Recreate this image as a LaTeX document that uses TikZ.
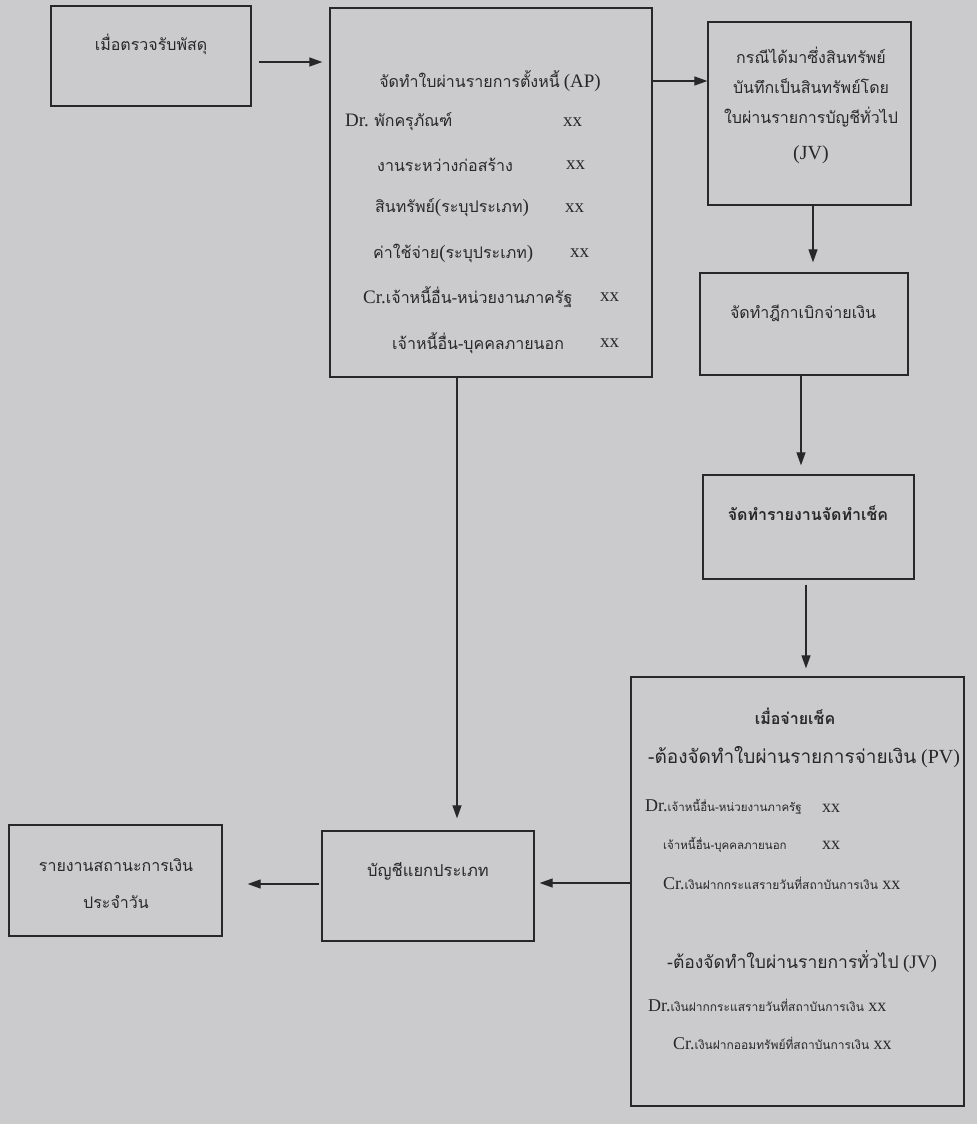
\documentclass[tikz,border=0pt]{standalone}
\usepackage{fontspec}
\setmainfont{Liberation Serif}
\newfontfamily\thai[Script=Thai]{Loma}
\usetikzlibrary{arrows.meta}
\definecolor{paper}{RGB}{203,203,205}
\definecolor{ink}{RGB}{40,40,42}
\newcommand\T[1]{{\thai #1}}
\newcommand\fs[1]{\fontsize{#1}{#1}\selectfont}
\newcommand\LL[1]{{\fs{19}#1}}
\tikzset{
  box/.style={draw=ink, line width=1.3pt, rectangle, inner sep=0pt},
  arr/.style={draw=ink, line width=1.2pt, -{Triangle[length=13pt,width=9pt]}},
  txt/.style={text=ink, inner sep=0pt, font=\fs{16}},
  lt/.style={txt, anchor=west},
}
\begin{document}
\begin{tikzpicture}[x=1pt,y=-1pt]
\fill[paper] (0,0) rectangle (977,1124);
\useasboundingbox (0,0) rectangle (977,1124);
% boxes
\node[box, minimum width=200pt, minimum height=100pt] (recv) at (151,56) {};
\node[box, minimum width=322pt, minimum height=369pt] (ap) at (491,192.5) {};
\node[box, minimum width=203pt, minimum height=183pt] (jv) at (809.5,113.5) {};
\node[box, minimum width=208pt, minimum height=102pt] (dika) at (804,324) {};
\node[box, minimum width=211pt, minimum height=104pt] (chq) at (808.5,527) {};
\node[box, minimum width=333pt, minimum height=429pt] (pv) at (797.5,891.5) {};
\node[box, minimum width=212pt, minimum height=110pt] (ledger) at (428,886) {};
\node[box, minimum width=213pt, minimum height=111pt] (report) at (115.5,880.5) {};
% texts
\node[txt] (t1) at (151,44) {\T{เมื่อตรวจรับพัสดุ}};
\node[txt] (a0) at (490,81) {\T{จัดทำใบผ่านรายการตั้งหนี้} \LL{(AP)}};
\node[lt] (a1) at (345,122) {\LL{Dr.} \T{พักครุภัณฑ์}};
\node[lt] (a2) at (377,165) {\T{งานระหว่างก่อสร้าง}};
\node[lt] (a3) at (375,208) {\T{สินทรัพย์}\LL{(}\T{ระบุประเภท}\LL{)}};
\node[lt] (a4) at (373,253) {\T{ค่าใช้จ่าย}\LL{(}\T{ระบุประเภท}\LL{)}};
\node[lt] (a5) at (363,297) {\LL{Cr.}\T{เจ้าหนี้อื่น-หน่วยงานภาครัฐ}};
\node[lt] (a6) at (392,343) {\T{เจ้าหนี้อื่น-บุคคลภายนอก}};
\node[lt] (x1) at (563,122) {\LL{xx}};
\node[lt] (x2) at (566,165) {\LL{xx}};
\node[lt] (x3) at (565,208) {\LL{xx}};
\node[lt] (x4) at (570,253) {\LL{xx}};
\node[lt] (x5) at (600,297) {\LL{xx}};
\node[lt] (x6) at (600,343) {\LL{xx}};
\node[txt, align=center, font={\thai\fontsize{16}{30}\selectfont}] (j1) at (811,105)
  {กรณีได้มาซึ่งสินทรัพย์\\บันทึกเป็นสินทรัพย์โดย\\ใบผ่านรายการบัญชีทั่วไป\\[6pt]\rmfamily\fs{20}(JV)};
\node[txt] (d1) at (803,313) {\T{จัดทำฎีกาเบิกจ่ายเงิน}};
\node[txt] (c1) at (808,513) {\T{\bfseries จัดทำรายงานจัดทำเช็ค}};
\node[txt] (p0) at (795,716) {\T{\bfseries เมื่อจ่ายเช็ค}};
\node[lt, font=\fs{19}] (p1) at (648,757) {\T{-ต้องจัดทำใบผ่านรายการจ่ายเงิน} \fs{20}(PV)};
\node[lt] (p2) at (645,807) {\fs{18}Dr.\T{\fs{11.5}เจ้าหนี้อื่น-หน่วยงานภาครัฐ}};
\node[lt] (p3) at (663,845) {\T{\fs{11.5}เจ้าหนี้อื่น-บุคคลภายนอก}};
\node[lt] (px2) at (822,808) {\fs{18}xx};
\node[lt] (px3) at (822,845) {\fs{18}xx};
\node[lt] (p4) at (663,883) {\fs{18}Cr.\T{\fs{12}เงินฝากกระแสรายวันที่สถาบันการเงิน} xx};
\node[lt, font=\fs{17.5}] (p5) at (667,962) {\T{-ต้องจัดทำใบผ่านรายการทั่วไป} \fs{19}(JV)};
\node[lt] (p6) at (648,1005) {\fs{18}Dr.\T{\fs{12}เงินฝากกระแสรายวันที่สถาบันการเงิน} xx};
\node[lt] (p7) at (673,1043) {\fs{18}Cr.\T{\fs{12}เงินฝากออมทรัพย์ที่สถาบันการเงิน} xx};
\node[txt, align=center, font={\thai\fontsize{16}{37}\selectfont}] (r1) at (116,884)
  {รายงานสถานะการเงิน\\ประจำวัน};
\node[txt, font=\fs{16.5}] (l1) at (428,871) {\T{บัญชีแยกประเภท}};
% connectors
\coordinate (s1) at ([yshift=-6pt]recv.east);
\draw[arr, shorten <=7pt, shorten >=7pt] (s1) -- (s1 -| ap.west);
\coordinate (s2) at (ap.east |- 0,81);
\draw[arr] (s2) -- (s2 -| jv.west);
\coordinate (s3) at (jv.south -| 813,0);
\draw[arr, shorten >=10pt] (s3) -- (s3 |- dika.north);
\coordinate (s4) at (dika.south -| 801,0);
\draw[arr, shorten >=9pt] (s4) -- (s4 |- chq.north);
\coordinate (s5) at (chq.south -| 806,0);
\draw[arr, shorten <=5pt, shorten >=8pt] (s5) -- (s5 |- pv.north);
\coordinate (s6) at (ap.south -| 457,0);
\draw[arr, shorten >=12pt] (s6) -- (s6 |- ledger.north);
\coordinate (s7) at (pv.west |- 0,883);
\draw[arr, shorten >=5pt] (s7) -- (s7 -| ledger.east);
\coordinate (s8) at (ledger.west |- 0,884);
\draw[arr, shorten <=2pt, shorten >=25pt] (s8) -- (s8 -| report.east);
\end{tikzpicture}
\end{document}
